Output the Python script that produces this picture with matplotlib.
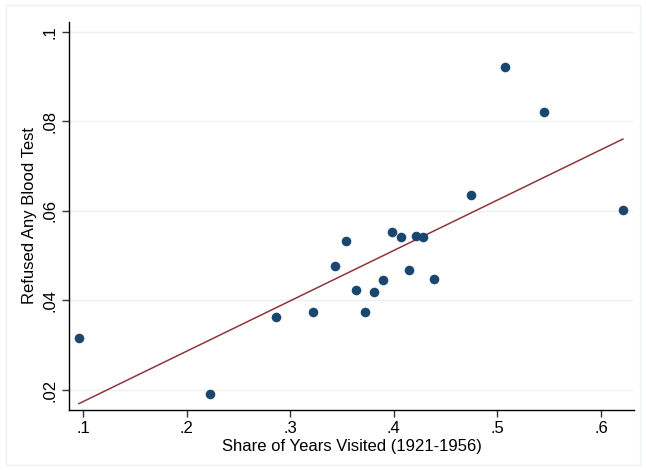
import numpy as np
import matplotlib
matplotlib.use('Agg')
import matplotlib.pyplot as plt
from matplotlib.patches import Rectangle

plt.rcParams['font.family'] = ['Liberation Sans', 'DejaVu Sans']

# share of years visited vs. share refusing any blood test
share_visited = [0.0961, 0.2222, 0.2863, 0.3220, 0.3432, 0.3539, 0.3635, 0.3722,
                 0.3809, 0.3896, 0.3983, 0.4069, 0.4147, 0.4215, 0.4282, 0.4388,
                 0.4745, 0.5073, 0.5450, 0.6212]
refused = [0.0317, 0.0190, 0.0362, 0.0374, 0.0476, 0.0532, 0.0424, 0.0374,
           0.0420, 0.0446, 0.0554, 0.0542, 0.0468, 0.0544, 0.0541, 0.0448,
           0.0635, 0.0922, 0.0822, 0.0601]

xticks = [0.1, 0.2, 0.3, 0.4, 0.5, 0.6]
xtick_labels = ['.1', '.2', '.3', '.4', '.5', '.6']
yticks = [0.02, 0.04, 0.06, 0.08, 0.1]
ytick_labels = ['.02', '.04', '.06', '.08', '.1']

x = np.array(share_visited)
y = np.array(refused)
slope, intercept = np.polyfit(x, y, 1)
xfit = np.array([x.min(), x.max()])

fig = plt.figure(figsize=(6.46, 4.70), dpi=100)
ax = fig.add_axes([0.1068, 0.1277, 0.8746, 0.8255])

fig.patches.append(Rectangle((6/646, 5/470), 634/646, 460/470, transform=fig.transFigure,
                             fill=False, edgecolor='#EAF2F3', linewidth=1.0))

for yt in yticks:
    ax.axhline(yt, color='#EAF2F3', linewidth=1.0, zorder=0)

ax.scatter(x, y, s=48, color='#1A476F', zorder=3, linewidths=0)
ax.plot(xfit, intercept + slope * xfit, color='#90353B', linewidth=1.1, zorder=2)

ax.set_xlim(0.0865, 0.6319)
ax.set_ylim(0.01554, 0.1022)
ax.set_xticks(xticks)
ax.set_xticklabels(xtick_labels)
ax.set_yticks(yticks)
ax.set_yticklabels(ytick_labels, rotation=90, va='center')

ax.spines['top'].set_visible(False)
ax.spines['right'].set_visible(False)
ax.spines['left'].set_linewidth(1.0)
ax.spines['bottom'].set_linewidth(1.0)
ax.tick_params(axis='both', length=5, width=1, color='#333333', labelsize=12, pad=3)

ax.set_xlabel('Share of Years Visited (1921-1956)', fontsize=12, labelpad=2)
ax.set_ylabel('Refused Any Blood Test', fontsize=12, labelpad=4)

fig.savefig('out.png', dpi=100)
print(slope, intercept)
